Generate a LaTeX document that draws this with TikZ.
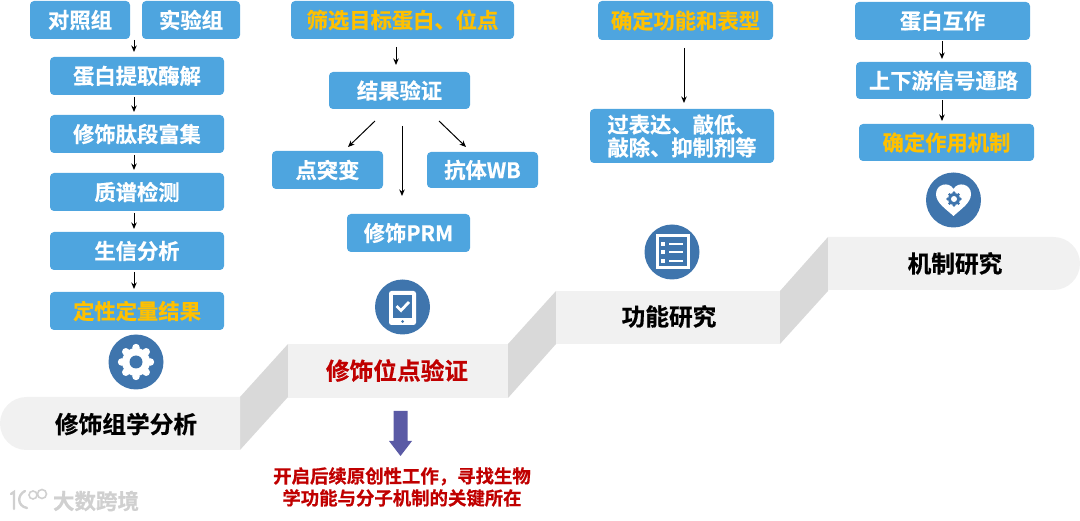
\documentclass[tikz,border=0pt]{standalone}
\usepackage{fontspec}
\setmainfont{Noto Sans CJK SC}[BoldFont={Noto Sans CJK SC Bold},BoldFeatures={FakeBold=0.6}]
\usetikzlibrary{arrows.meta}
\definecolor{boxblue}{HTML}{4EA5DF}
\definecolor{iconblue}{HTML}{3F75AD}
\definecolor{stepface}{HTML}{F1F1F1}
\definecolor{stepside}{HTML}{D9D9D9}
\definecolor{darkred}{HTML}{C00000}
\definecolor{gold}{HTML}{FFC000}
\definecolor{arrowpurple}{HTML}{5A5AA5}
\definecolor{wm}{HTML}{D0D0D0}
\newcommand{\boxfont}{\fontsize{21.3}{25}\selectfont\bfseries}
\newcommand{\stepfont}{\fontsize{23.7}{27}\selectfont\bfseries}
\tikzset{
  bluebox/.style={fill=boxblue,rounded corners=4pt,text=white,font=\boxfont,inner sep=0pt,outer sep=0pt,align=center},
  goldtext/.style={text=gold},
  conn/.style={-{Stealth[length=6.5pt,width=5.5pt]},line width=1pt,black},
  stepfacefill/.style={fill=stepface},
  stepsidefill/.style={fill=stepside},
  steplabel/.style={font=\stepfont,text=black,inner sep=0pt},
  iconcircle/.style={circle,fill=iconblue,minimum size=55pt,inner sep=0pt,outer sep=0pt},
}
% box with left, top, width, height in pixels
\newcommand{\bx}[6][]{\node[bluebox,#1,minimum width=#4pt,minimum height=#5pt,anchor=north west] (#2) at (#3) {\rule{0pt}{18pt}#6};}
% gear: centre, outer radius, colour
\newcommand{\gearshape}[3]{%
  \foreach \a in {0,45,...,315}{\fill[#3] (#1)++(\a:#2*0.8) circle[radius=#2*0.21];}
  \fill[#3] (#1) circle[radius=#2*0.78];
}
\begin{document}
\begin{tikzpicture}[x=1pt,y=-1pt]
\useasboundingbox (0,0) rectangle (1080,521);
% ===== steps =====
\fill[stepsidefill] (240,397) -- (288,344) -- (288,397) -- (240,450) -- cycle;
\fill[stepsidefill] (508,344) -- (556,291) -- (556,344) -- (508,398) -- cycle;
\fill[stepsidefill] (780,291) -- (828,237) -- (828,291) -- (780,344) -- cycle;
\fill[stepfacefill] (240,397) -- (26.5,397) arc[start angle=90,end angle=270,radius=26.5pt] -- (240,450) -- cycle;
\fill[stepfacefill] (288,344) rectangle (508,398);
\fill[stepfacefill] (556,291) rectangle (780,344);
\fill[stepfacefill] (828,237) -- (1053.5,237) arc[start angle=90,end angle=-90,radius=26.5pt] -- (828,290) -- cycle;
\node[steplabel] (s1) at (126,424) {修饰组学分析};
\node[steplabel,text=darkred] (s2) at (397,370.5) {修饰位点验证};
\node[steplabel] (s3) at (669,316.5) {功能研究};
\node[steplabel] (s4) at (955,263.5) {机制研究};
% ===== column 1 =====
\bx{a0}{30,1}{100}{38}{对照组}
\bx{a00}{142,1}{98}{38}{实验组}
\bx{a1}{50,57}{174}{38}{蛋白提取酶解}
\bx{a2}{50,115}{174}{38}{修饰肽段富集}
\bx{a3}{50,173}{174}{38}{质谱检测}
\bx{a4}{50,232}{174}{38}{生信分析}
\bx[goldtext]{a5}{50,292}{174}{38}{定性定量结果}
\coordinate (xa) at (134,0);
\draw[conn,shorten <=1pt,shorten >=5pt] (a00.south -| xa) -- (a1.north -| xa) ;
\draw[conn,shorten <=2pt,shorten >=3pt] (a1.south -| xa) -- (a2.north -| xa);
\draw[conn,shorten <=2pt,shorten >=3pt] (a2.south -| xa) -- (a3.north -| xa);
\draw[conn,shorten <=2pt,shorten >=3pt] (a3.south -| xa) -- (a4.north -| xa);
\draw[conn,shorten <=2pt,shorten >=3pt] (a4.south -| xa) -- (a5.north -| xa);
% ===== column 2 =====
\bx[goldtext]{b0}{291,1}{223}{38}{筛选目标蛋白、位点}
\bx{b1}{329,72}{141}{37}{结果验证}
\bx{b2}{272,151}{111}{38}{点突变}
\bx{b3}{427,152}{111}{36}{抗体WB}
\bx{b4}{347,214}{123}{38}{修饰PRM}
\coordinate (xb) at (396,0);
\coordinate (xc) at (402,0);
\coordinate (l1) at (375,121); \coordinate (l2) at (348,147);
\coordinate (r1) at (439,121); \coordinate (r2) at (466,147);
\draw[conn,shorten <=8pt,shorten >=7pt] (b0.south -| xb) -- (b1.north -| xb);
\draw[conn] (l1) -- (l2);
\draw[conn] (r1) -- (r2);
\draw[conn,shorten <=17pt,shorten >=18pt] (b1.south -| xc) -- (b4.north -| xc);
% ===== column 3 =====
\bx[goldtext]{c0}{598,1}{175}{39}{确定功能和表型}
\bx{c1}{590,109}{184}{54}{过表达、敲低、\\[-2pt]敲除、抑制剂等}
\coordinate (xd) at (684,0);
\draw[conn,shorten <=8pt,shorten >=6pt] (c0.south -| xd) -- (c1.north -| xd);
% ===== column 4 =====
\bx{d0}{855,2}{175}{38}{蛋白互作}
\bx{d1}{856,62}{175}{37}{上下游信号通路}
\bx[goldtext]{d2}{859,124}{175}{37}{确定作用机制}
\coordinate (xe) at (942,0);
\draw[conn,shorten <=1pt,shorten >=3pt] (d0.south -| xe) -- (d1.north -| xe);
\draw[conn,shorten <=1pt,shorten >=3pt] (d1.south -| xe) -- (d2.north -| xe);
% ===== icons =====
\node[iconcircle] (i1) at (136,362) {};
\gearshape{i1}{18pt}{white}
\fill[iconblue] (i1) circle[radius=6.5pt];
\node[iconcircle] (i2) at (402.5,307) {};
\fill[white,rounded corners=2.5pt] (389,291) rectangle (416,325);
\fill[iconblue] (393,295) rectangle (412,318);
\draw[white,line width=2.8pt] (396.5,306) -- (401,310.5) -- (409,302);
\fill[iconblue] (402.5,321.5) circle[radius=1.5pt];
\node[iconcircle] (i3) at (672,252) {};
\fill[white] (655.5,234.5) rectangle (689.5,269);
\fill[iconblue] (658.5,237.5) rectangle (686.5,266);
\foreach \yy in {244,252.5,261}{
  \fill[white] (660.5,\yy-2) rectangle (665,\yy+2);
  \fill[white] (669,\yy-1) rectangle (683,\yy+1);
}
\node[iconcircle] (i4) at (953.5,200) {};
\fill[white] (953.5,216) .. controls (946,209) and (936,203) .. (936,194)
  .. controls (936,184) and (949,181) .. (953.5,189)
  .. controls (958,181) and (971,184) .. (971,194)
  .. controls (971,203) and (961,209) .. (953.5,216) -- cycle;
\coordinate (g4) at (954,199);
\gearshape{g4}{7.7pt}{iconblue}
\fill[white] (g4) circle[radius=3pt];
% ===== purple arrow and note =====
\fill[arrowpurple] (393.5,411) -- (407.5,411) -- (407.5,441) -- (412,441) -- (400.5,456) -- (389,441) -- (393.5,441) -- cycle;
\node[font=\fontsize{18.4}{22}\selectfont\bfseries,text=darkred,align=center,inner sep=0pt] (note) at (402,487) {开启后续原创性工作，寻找生物\\学功能与分子机制的关键所在};
% ===== watermark =====
\node[font=\fontsize{21.5}{24}\selectfont\bfseries,text=wm,inner sep=0pt] (wmt) at (96,501) {大数跨境};
\draw[wm,line width=2.4pt,line cap=round] (11,494) -- (14,492) -- (14,509);
\draw[wm,line width=2.4pt,line cap=round] (25,491) .. controls (17,495) and (17,506) .. (27,508);
\draw[wm,line width=1.6pt] (33,495) circle[radius=4pt] (42,494) circle[radius=4.5pt];
\end{tikzpicture}
\end{document}
